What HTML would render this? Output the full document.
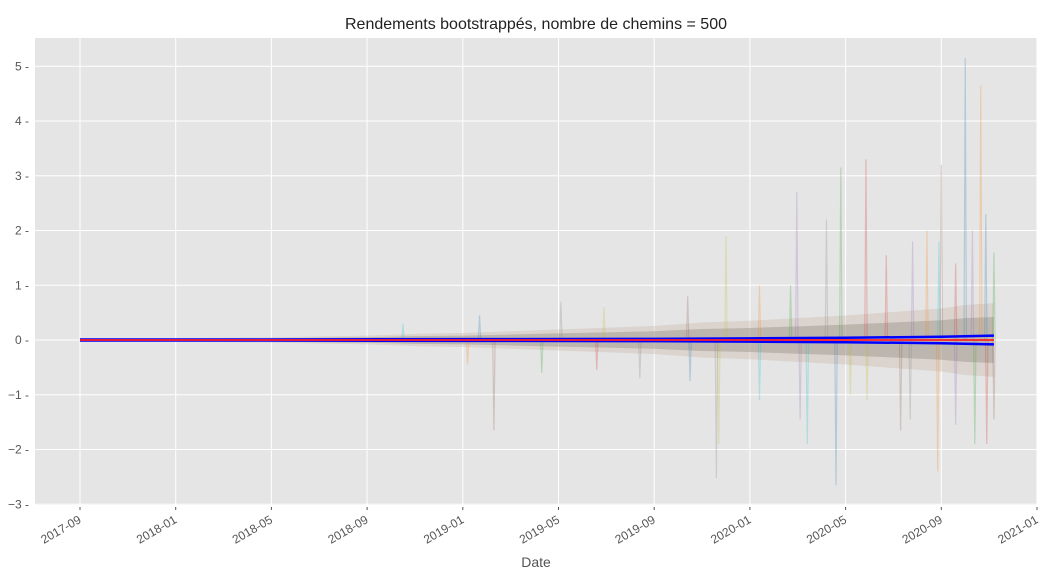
<!DOCTYPE html>
<html><head><meta charset="utf-8"><style>
body{margin:0;background:#fff;}
svg{display:block;font-family:"Liberation Sans","DejaVu Sans",sans-serif;}
</style></head><body>
<svg id="chart" width="1053" height="573" xmlns="http://www.w3.org/2000/svg">
<text x="536" y="29" text-anchor="middle" font-size="16" fill="#222">Rendements bootstrappés, nombre de chemins = 500</text>
<rect x="35" y="38" width="1002" height="467" fill="#e5e5e5"/>
<g id="grid"></g><g id="band"></g><g id="spikes"></g><g id="lines"></g><g id="axes"></g>
<text x="536" y="567" text-anchor="middle" font-size="14" fill="#555">Date</text>
</svg>
<script>
// month index 0 = 2017-09
const xTickLabels=["2017-09","2018-01","2018-05","2018-09","2019-01","2019-05","2019-09","2020-01","2020-05","2020-09","2021-01"];
const xTickMonths=[0,4,8,12,16,20,24,28,32,36,40];
const yTicks=[-3,-2,-1,0,1,2,3,4,5];
const bandMonths=[0,4,8,10,12,14,16,18,20,22,24,26,28,30,32,34,36,37,38.2];
const bandUpper=[0.02,0.02,0.03,0.04,0.05,0.07,0.08,0.1,0.12,0.14,0.16,0.2,0.22,0.25,0.28,0.32,0.36,0.4,0.42];
const bandLower=[-0.02,-0.02,-0.03,-0.04,-0.05,-0.07,-0.08,-0.1,-0.12,-0.14,-0.16,-0.2,-0.22,-0.25,-0.28,-0.32,-0.36,-0.4,-0.42];
const spikeMonths=[37.0,37.65,31.8,32.85,29.96,36.0,31.2,27.0,35.9,37.86,35.4,38.2,33.7,34.8,25.4,20.1,21.9,13.5,16.7,28.4,29.7,36.6,37.3,17.3,26.6,26.7,30.4,31.6,35.85,37.4,37.9,30.1,34.3,34.7,32.9,28.4,25.5,16.2,19.3,21.6,36.6,38.2,23.4,32.2];
const spikeValues=[5.15,4.65,3.15,3.3,2.7,3.2,2.2,1.9,1.8,2.3,2.0,1.6,1.55,1.8,0.8,0.7,0.6,0.3,0.45,1.0,1.0,1.4,2.0,-1.65,-2.52,-1.9,-1.9,-2.65,-2.4,-1.9,-1.9,-1.45,-1.65,-1.45,-1.1,-1.1,-0.75,-0.45,-0.6,-0.55,-1.55,-1.45,-0.7,-1.0];
const meanMonths=[0,8,16,24,28,32,36,38.2];
const blueUpper=[0.01,0.01,0.015,0.02,0.03,0.04,0.06,0.08];
const blueLower=[-0.01,-0.01,-0.015,-0.02,-0.03,-0.04,-0.06,-0.08];

const NS="http://www.w3.org/2000/svg";
const X=m=>80+m*(1037-80)/40;
const Y=v=>340-v*54.75;
function mk(tag,attrs,parent){const e=document.createElementNS(NS,tag);for(const k in attrs)e.setAttribute(k,attrs[k]);document.getElementById(parent).appendChild(e);return e;}
yTicks.forEach(v=>{
  const g=mk('line',{x1:35,x2:1037,y1:Y(v),y2:Y(v),stroke:'#fff','stroke-width':1},'grid');
  
  
  const t=mk('text',{x:29,y:Y(v)+4,'text-anchor':'end','font-size':12,fill:'#555'},'axes');
  t.textContent=(v<0?'\u2212'+(-v):String(v))+' -';
  
  
});
xTickMonths.forEach((m,i)=>{
  const g=mk('line',{x1:X(m),x2:X(m),y1:38,y2:505,stroke:'#fff','stroke-width':1},'grid');
  
  
  const tk=mk('line',{x1:X(m),x2:X(m),y1:507,y2:510,stroke:'#555'},'axes');
  
  
  const t=mk('text',{x:X(m)+2,y:522,'text-anchor':'end','font-size':12,fill:'#555',transform:`rotate(-30 ${X(m)+2} 522)`},'axes');
  t.textContent=xTickLabels[i];
  
  
});
function band(up,lo,scale,fill,op,name){
  let pts=bandMonths.map((m,i)=>X(m)+','+Y(up[i]*scale));
  pts=pts.concat(bandMonths.map((m,i)=>X(m)+','+Y(lo[i]*scale)).reverse());
  const p=mk('polygon',{points:pts.join(' '),fill:fill,'fill-opacity':op},'band');
  
  
}
band(bandUpper,bandLower,1.6,'#c0a898',0.3,'outer-spread-band');
band(bandUpper,bandLower,1.0,'#9a9288',0.45,'inner-spread-band');
const cols=['#1f77b4','#ff7f0e','#2ca02c','#d62728','#9467bd','#8c564b','#7f7f7f','#bcbd22','#17becf'];
spikeMonths.forEach((m,i)=>{
  const v=spikeValues[i];
  const p=mk('polyline',{points:`${X(m-0.05)},${Y(0)} ${X(m)},${Y(v)} ${X(m+0.05)},${Y(0)}`,fill:'none',stroke:cols[i%cols.length],'stroke-opacity':0.25,'stroke-width':1.2},'spikes');
  
  
});
function line(arr,color,w,name){
  const p=mk('polyline',{points:meanMonths.map((m,i)=>X(m)+','+Y(arr[i])).join(' '),fill:'none',stroke:color,'stroke-width':w},'lines');
  
  
}
line(blueUpper,'#0000ff',2.5,'upper-quantile-line');
line(blueLower,'#0000ff',2.5,'lower-quantile-line');
line(meanMonths.map(()=>0),'#ff2020',1.8,'mean-line');
</script>
</body></html>
